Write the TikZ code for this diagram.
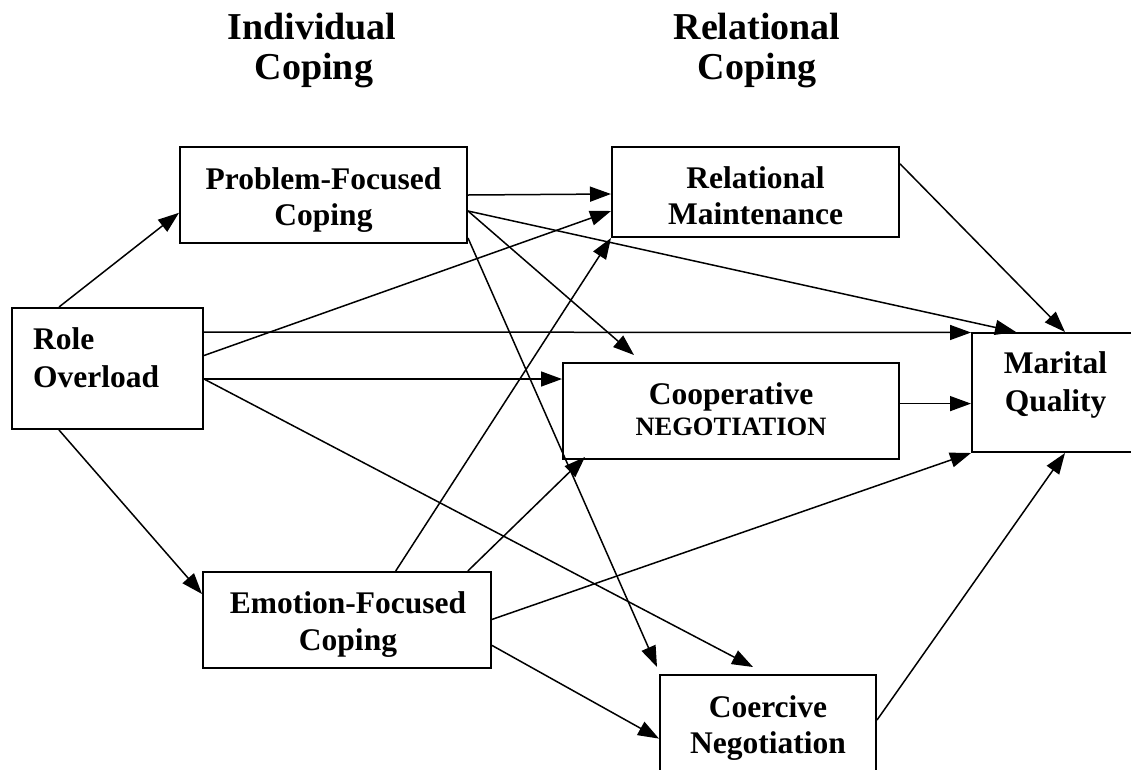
\documentclass[tikz,border=0pt]{standalone}
\usepackage{fontspec}
\setmainfont{Liberation Serif}
\usetikzlibrary{arrows.meta,calc}
\begin{document}
\begin{tikzpicture}[x=1pt,y=-1pt,
  box/.style={draw, line width=2pt, rectangle, inner sep=0pt},
  txt/.style={anchor=base, font=\bfseries\fontsize{31.5}{36}\selectfont, inner sep=0pt},
  small/.style={anchor=base, font=\bfseries\fontsize{26.5}{30}\selectfont, inner sep=0pt},
  head/.style={anchor=base, font=\bfseries\fontsize{38}{42}\selectfont, inner sep=0pt},
  conn/.style={line width=1.5pt, -{Triangle[length=21pt,width=15pt]}}]
\useasboundingbox (0,0) rectangle (1131,769);
\clip (0,0) rectangle (1131,769);
% headings
\node[head] (h1a) at (312,39) {Individual};
\node[head] (h1b) at (314,79) {Coping};
\node[head] (h2a) at (757,39) {Relational};
\node[head] (h2b) at (757,79) {Coping};
% boxes
\node[box, minimum width=191.5pt, minimum height=121pt] (ro) at (107.25,368.5) {};
\node[box, minimum width=287pt, minimum height=96pt] (pf) at (323.5,195) {};
\node[box, minimum width=288pt, minimum height=96pt] (ef) at (347,620) {};
\node[box, minimum width=287pt, minimum height=90pt] (rm) at (755.5,192) {};
\node[box, minimum width=336pt, minimum height=96pt] (cn) at (731,411) {};
\node[box, minimum width=168pt, minimum height=119pt] (mq) at (1056,392.5) {};
\node[box, minimum width=216pt, minimum height=100pt] (co) at (768,725) {};
% texts
\node[txt, anchor=base west] (ro1) at (33,349) {Role};
\node[txt, anchor=base west] (ro2) at (33,387.5) {Overload};
\node[txt] (pf1) at (323.5,189) {Problem-Focused};
\node[txt] (pf2) at (323.5,225.6) {Coping};
\node[txt] (rm1) at (755.5,188.8) {Relational};
\node[txt] (rm2) at (755.5,224.6) {Maintenance};
\node[txt] (cn1) at (731,404.6) {Cooperative};
\node[small] (cn2) at (731,435.5) {NEGOTIATION};
\node[txt] (mq1) at (1055.5,373.7) {Marital};
\node[txt] (mq2) at (1055.5,411) {Quality};
\node[txt] (ef1) at (348,613) {Emotion-Focused};
\node[txt] (ef2) at (348,650) {Coping};
\node[txt] (co1) at (768,717) {Coercive};
\node[txt] (co2) at (768,753) {Negotiation};
% connectors
\draw[conn] ($(ro.north west)+(48.5,0)$) -- ($(pf.north west)+(0,66.8)$);
\draw[conn] ($(ro.south west)+(48.5,0)$) -- ($(ef.north west)+(0,23)$);
\draw[conn] ($(ro.north east)+(0,25)$) -- ($(mq.north west)+(0,0.5)$);
\draw[conn] ($(ro.north east)+(0,48.5)$) -- ($(rm.north west)+(0,65)$);
\draw[conn] ($(ro.north east)+(0,72)$) -- ($(cn.north west)+(0,17)$);
\draw[conn] ($(ro.north east)+(0,72)$) -- ($(co.north west)+(94,-7)$);
\draw[conn] (pf.east) -- ($(rm.north west)+(0,48)$);
\draw[conn] ($(pf.north east)+(0,65)$) -- ($(mq.north west)+(45,0)$);
\draw[conn] ($(pf.north east)+(0,65)$) -- ($(cn.north west)+(72,-7)$);
\draw[conn] ($(pf.south east)+(0,-6)$) -- ($(co.north west)+(-2,-7)$);
\draw[conn] ($(rm.north east)+(0,17.8)$) -- ($(mq.north west)+(94,0)$);
\draw[conn] ($(cn.north east)+(0,41.6)$) -- ($(mq.north west)+(0,71.6)$);
\draw[conn] ($(ef.north west)+(193.7,0)$) -- (rm.south west);
\draw[conn] ($(ef.north west)+(265.8,0)$) -- ($(cn.south west)+(23,-3)$);
\draw[conn] ($(ef.north east)+(0,48.4)$) -- (mq.south west);
\draw[conn] ($(ef.north east)+(0,74.4)$) -- ($(co.north west)+(0,64.6)$);
\draw[conn] ($(co.north east)+(0,46)$) -- ($(mq.south west)+(94,0)$);
\end{tikzpicture}
\end{document}
